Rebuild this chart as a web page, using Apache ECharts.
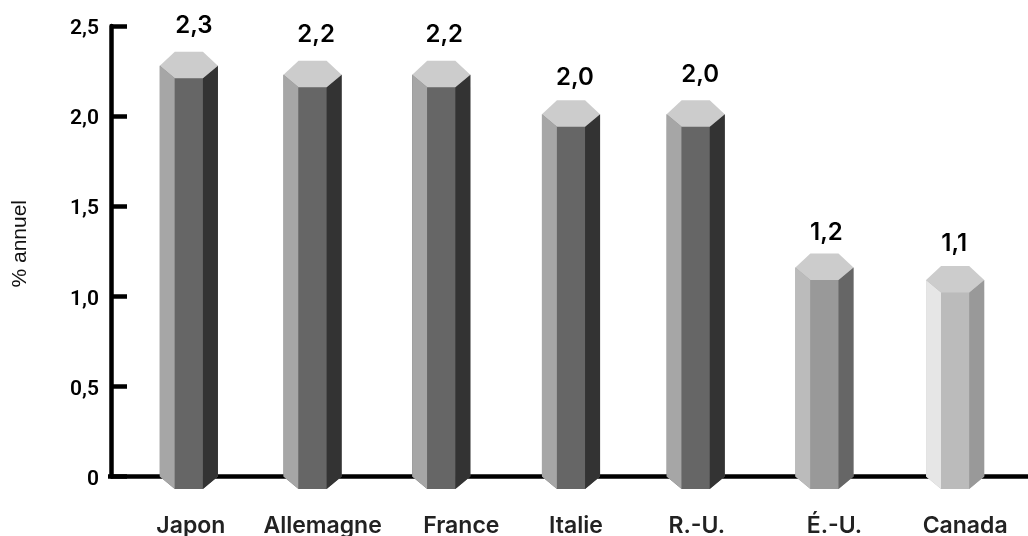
<!DOCTYPE html>
<html><head><meta charset="utf-8">
<style>html,body{margin:0;padding:0;background:#fff}#c{width:1028px;height:536px}</style>
<script src="https://cdn.jsdelivr.net/npm/echarts@6/dist/echarts.min.js"></script>
</head><body><div id="c"></div>
<script>
const categories = ['Japon','Allemagne','France','Italie','R.-U.','É.-U.','Canada'];
const values = [2.28,2.23,2.23,2.01,2.01,1.16,1.09];
const yTicks = ['0','0,5','1,0','1,5','2,0','2,5'];

// layout / styling (not data)
const barNudge = [0,-4,-3,-1,-4,-3,0];
const labelNudge = [2,6,17,4,-3,7,10];
const valueDx = [5,3.5,3,4,4.5,2,-1];
const valueDy = [0,0,0,3,0,5,4];
const tones = [0,0,0,0,0,1,2];
const palettes = [
  {left:'#a6a6a6',front:'#666666',right:'#333333',top:'#cccccc'},
  {left:'#bbbbbb',front:'#999999',right:'#666666',top:'#cccccc'},
  {left:'#e6e6e6',front:'#bbbbbb',right:'#999999',top:'#cccccc'}
];
const FONT = 'Inter';
const rich = {};
labelNudge.forEach((n,i)=>{ rich['n'+i] = {
  fontFamily:FONT,fontWeight:600,fontSize:23,color:'#222',
  padding:n>=0?[0,0,0,2*n]:[0,-2*n,0,0]}; });

const chart = echarts.init(document.getElementById('c'),null,{renderer:'canvas'});
chart.setOption({
  animation:false,
  grid:{left:125,right:9,top:26,bottom:59.5,outerBoundsMode:'none',containLabel:false},
  xAxis:{type:'category',data:categories,
    axisLine:{show:false},axisTick:{show:false},
    axisLabel:{interval:0,margin:38,formatter:(v,i)=>`{n${i}|${v}}`,rich}},
  yAxis:{type:'value',min:0,max:2.5,interval:0.5,offset:14,
    name:'% annuel',nameLocation:'middle',nameGap:80,nameRotate:90,
    nameTextStyle:{fontFamily:'"Liberation Sans"',fontSize:21,color:'#111',padding:[0,0,0,15]},
    axisLine:{show:true,lineStyle:{color:'#000',width:4.5}},
    axisTick:{show:true,inside:true,length:16,lineStyle:{color:'#000',width:4.5}},
    splitLine:{show:false},
    axisLabel:{margin:12,
      formatter:(v)=>`{t|${yTicks[Math.round(v/0.5)]}}`,
      rich:{t:{fontFamily:'Roboto',fontWeight:600,fontSize:21,color:'#000',padding:[6,0,0,0]}}}},
  series:[
   {type:'custom',z:1,silent:true,data:[[0,0]],
    renderItem:(p,api)=>{
      const y=api.coord([0,0])[1];
      return {type:'line',z2:1,shape:{x1:108,y1:y,x2:1028,y2:y},style:{stroke:'#000',lineWidth:4.5}};
    }},
   {type:'custom',z:5,silent:true,
    data:values.map((v,i)=>[i,v]),
    renderItem:(p,api)=>{
      const i=p.dataIndex, band=api.size([1,0])[0];
      const c=api.coord([api.value(0),api.value(1)]);
      const b=api.coord([api.value(0),0]);
      const x=c[0]+barNudge[i], T=c[1], B=b[1];
      const o=band*0.2275, f=band*0.11, d=12.5, u=14;
      const s=palettes[tones[i]];
      const poly=(pts,fill)=>({type:'polygon',z2:10,shape:{points:pts},style:{fill}});
      return {type:'group',children:[
        poly([[x-o,T],[x+o,T],[x+o,B],[x+f,B+d],[x-f,B+d],[x-o,B]],s.front),
        poly([[x-o,T],[x-f,T+d],[x-f,B+d],[x-o,B]],s.left),
        poly([[x-f,T+d],[x+f,T+d],[x+f,B+d],[x-f,B+d]],s.front),
        poly([[x+f,T+d],[x+o,T],[x+o,B],[x+f,B+d]],s.right),
        poly([[x-o,T],[x-f,T-u],[x+f,T-u],[x+o,T],[x+f,T+d],[x-f,T+d]],s.top),
        {type:'text',z2:10,style:{x:x+valueDx[i],y:T-40+valueDy[i],text:values[i].toFixed(1).replace('.',','),
          textAlign:'center',textVerticalAlign:'middle',
          font:'600 24px '+FONT,fill:'#000'}}
      ]};
    }}
  ]
});
</script></body></html>
